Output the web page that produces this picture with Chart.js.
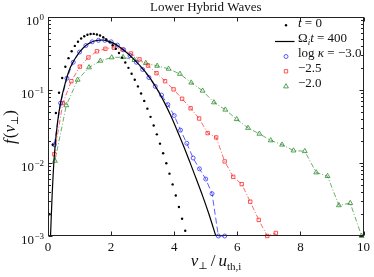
<!DOCTYPE html>
<html><head><meta charset="utf-8">
<script src="https://cdn.jsdelivr.net/npm/chart.js@4.4.1/dist/chart.umd.min.js"></script>
<style>html,body{margin:0;padding:0;background:#fff;}#wrap{width:374px;height:277px;position:relative;}</style>
</head><body><div id="wrap"><canvas id="c"></canvas></div>
<script>
// ---- data ----
const titleText = 'Lower Hybrid Waves';
const xTickValues = [0, 2, 4, 6, 8, 10];
const yTickValues = [1, 0.1, 0.01, 0.001];
const yTickExponents = ['0', '\u22121', '\u22122', '\u22123'];
const seriesNames = ['t = 0', '\u03A9i t = 400', 'log \u03BA = \u22123.0', '\u22122.5', '\u22122.0'];

// t = 0 (black dots)
const v_t0 = [0.05,0.15,0.25,0.35,0.45,0.55,0.65,0.75,0.85,0.95,1.05,1.15,1.25,1.35,1.45,1.55,1.65,1.75,1.85,1.95,2.05,2.15,2.25,2.35,2.45,2.55,2.65,2.75,2.85,2.95,3.05,3.15,3.25,3.35,3.45,3.55,3.65,3.75,3.85,3.95,4.05,4.15,4.25,4.35];
const f_t0 = [0.00199,0.0178,0.0483,0.0919,0.146,0.208,0.273,0.339,0.402,0.459,0.507,0.545,0.571,0.584,0.587,0.577,0.557,0.529,0.493,0.453,0.410,0.366,0.321,0.278,0.238,0.201,0.167,0.138,0.112,0.0894,0.0709,0.0555,0.0429,0.0327,0.0247,0.0184,0.0136,0.00992,0.00715,0.00509,0.00359,0.00250,0.00172,0.00118];

// Omega_i t = 400 (black solid)
const v_t400 = [0.08,0.13,0.2,0.3,0.4,0.55,0.7,0.9,1.1,1.3,1.5,1.7,1.9,2.1,2.3,2.5,2.7,2.9,3.1,3.3,3.5,3.7,3.9,4.1,4.3,4.5,4.7,4.9,5.1,5.32];
const f_t400 = [0.00100,0.00355,0.0126,0.0355,0.0676,0.126,0.200,0.288,0.372,0.437,0.473,0.484,0.468,0.432,0.380,0.324,0.269,0.219,0.174,0.132,0.0955,0.0661,0.0437,0.0275,0.0170,0.0102,0.00603,0.00355,0.00200,0.00100];

// log kappa = -3.0 (blue circles)
const v_k30 = [0.2,0.4,0.6,0.8,1.0,1.2,1.4,1.6,1.8,2.0,2.2,2.4,2.6,2.8,3.0,3.2,3.4,3.6,3.8,4.0,4.2,4.4,4.6,4.8,5.0,5.2,5.4,5.6];
const f_k30 = [0.0178,0.0661,0.145,0.240,0.331,0.407,0.457,0.479,0.479,0.457,0.412,0.355,0.295,0.240,0.191,0.148,0.112,0.0851,0.0631,0.0447,0.0282,0.0186,0.0117,0.00832,0.00603,0.00380,0.00100,0.00100];

// log kappa = -2.5 (red squares)
const v_k25 = [0.2,0.47,0.74,1.01,1.28,1.55,1.82,2.09,2.36,2.63,2.9,3.17,3.44,3.71,3.98,4.25,4.52,4.79,5.06,5.33,5.6,5.87,6.14,6.41,6.68,6.95,7.22];
const f_k25 = [0.0132,0.0661,0.132,0.209,0.279,0.339,0.367,0.380,0.359,0.316,0.263,0.216,0.170,0.132,0.102,0.0759,0.0562,0.0407,0.0257,0.0224,0.0105,0.00646,0.00513,0.00295,0.00166,0.00100,0.00110];

// log kappa = -2.0 (green triangles)
const v_k20 = [0.22,0.58,0.94,1.30,1.66,2.02,2.38,2.74,3.10,3.46,3.82,4.18,4.54,4.90,5.26,5.62,5.98,6.34,6.70,7.06,7.42,7.78,8.14,8.50,8.86,9.22,9.58,9.94];
const f_k20 = [0.0107,0.0617,0.138,0.204,0.251,0.279,0.282,0.257,0.234,0.214,0.195,0.166,0.126,0.0977,0.0676,0.0537,0.0398,0.0302,0.0251,0.0204,0.0178,0.0148,0.0145,0.00741,0.00661,0.00263,0.00282,0.00100];

// ---- styling ----
const FONT = '"Liberation Serif","DejaVu Serif","Times New Roman",serif';
const BLUE = '#3535ff', RED = '#ff2a2a', GREEN = '#2e8b2e';
const pts = (xs, ys) => xs.map((x, i) => ({x: x, y: ys[i]}));

function fontStr(s, base) { return (s.it ? 'italic ' : '') + (s.size || base) + 'px ' + FONT; }
function richWidth(ctx, segs, base) { let w = 0; for (const s of segs) { ctx.font = fontStr(s, base); w += ctx.measureText(s.t).width + (s.gap || 0); } return w; }
function drawRich(ctx, x, y, segs, base, align) {
  const w = richWidth(ctx, segs, base);
  let cx = align === 'right' ? x - w : (align === 'center' ? x - w / 2 : x);
  ctx.textAlign = 'left'; ctx.textBaseline = 'alphabetic';
  for (const s of segs) { ctx.font = fontStr(s, base); ctx.fillText(s.t, cx, y + (s.dy || 0)); cx += ctx.measureText(s.t).width + (s.gap || 0); }
}

const legendRich = [
  [{t:'t', it:1}, {t:' = 0'}],
  [{t:'\u03A9'}, {t:'i', it:1, size:9, dy:3}, {t:'t', it:1}, {t:' = 400'}],
  [{t:'log '}, {t:'\u03BA', it:1}, {t:' = \u22123.0'}],
  [{t:'\u22122.5'}],
  [{t:'\u22122.0'}]
];

const decor = {
  id: 'decor',
  afterDraw(chart) {
    const ctx = chart.ctx, a = chart.chartArea, xs = chart.scales.x, ys = chart.scales.y;
    ctx.save();
    // frame
    ctx.strokeStyle = '#222'; ctx.lineWidth = 1;
    const L = Math.round(a.left) + 0.5, R = Math.round(a.right) - 0.5, T = Math.round(a.top) + 0.5, B = Math.round(a.bottom) - 0.5;
    ctx.strokeRect(L, T, R - L, B - T);
    // ticks
    ctx.beginPath();
    for (const v of xTickValues) {
      const p = Math.round(xs.getPixelForValue(v)) + 0.5;
      ctx.moveTo(p, B); ctx.lineTo(p, B - 4);
      ctx.moveTo(p, T); ctx.lineTo(p, T + 4);
    }
    for (let i = 0; i < yTickValues.length; i++) {
      const d = yTickValues[i];
      const p = Math.round(ys.getPixelForValue(d)) + 0.5;
      ctx.moveTo(L, p); ctx.lineTo(L + 4, p);
      ctx.moveTo(R, p); ctx.lineTo(R - 4, p);
      if (d < 1) for (let m = 2; m <= 9; m++) {
        const q = Math.round(ys.getPixelForValue(d * m)) + 0.5;
        ctx.moveTo(L, q); ctx.lineTo(L + 2.5, q);
        ctx.moveTo(R, q); ctx.lineTo(R - 2.5, q);
      }
    }
    ctx.stroke();
    ctx.fillStyle = '#111';
    // y tick labels 10^n
    for (let i = 0; i < yTickValues.length; i++) {
      const p = ys.getPixelForValue(yTickValues[i]);
      ctx.font = '9px ' + FONT;
      const ew = ctx.measureText(yTickExponents[i]).width;
      ctx.textAlign = 'right'; ctx.textBaseline = 'alphabetic';
      ctx.fillText(yTickExponents[i], 44, p + 3);
      ctx.font = '13px ' + FONT;
      ctx.fillText('10', 44 - ew - 0.5, p + 8);
    }
    // title
    ctx.textAlign = 'center'; ctx.textBaseline = 'alphabetic';
    ctx.font = '13px ' + FONT;
    ctx.fillText(titleText, (a.left + a.right) / 2, 10.5);
    // x axis label
    drawRich(ctx, 216, 266, [{t:'v', it:1}, {t:'\u22A5', size:10, dy:3, gap:3}, {t:'/', gap:3}, {t:'u', it:1}, {t:'th,i', size:11, dy:4}], 17, 'center');
    // y axis label
    ctx.save(); ctx.translate(15, 127); ctx.rotate(-Math.PI / 2);
    drawRich(ctx, 0, 0, [{t:'f', it:1, gap:1}, {t:'('}, {t:'v', it:1}, {t:'\u22A5', size:10, dy:3}, {t:')'}], 17, 'center');
    ctx.restore();
    // legend
    const ds = chart.data.datasets;
    const rowsY = [27, 42, 57, 72, 87];
    const mkY = [25.3, 41.5, 56.5, 71.3, 86.5];
    for (let i = 0; i < ds.length; i++) {
      ctx.fillStyle = '#111';
      drawRich(ctx, 298, rowsY[i], legendRich[i], 13, 'left');
      const d = ds[i];
      if (i === 1) {
        ctx.strokeStyle = '#000'; ctx.lineWidth = 1.2; ctx.setLineDash([]);
        ctx.beginPath(); ctx.moveTo(275, mkY[i]); ctx.lineTo(294.5, mkY[i]); ctx.stroke();
      } else {
        ctx.setLineDash([]);
        ctx.fillStyle = d.pointBackgroundColor; ctx.strokeStyle = d.pointBorderColor || d.pointBackgroundColor;
        ctx.lineWidth = d.pointBorderWidth || 0;
        Chart.helpers.drawPoint(ctx, {pointStyle: d.pointStyle || 'circle', radius: d.pointRadius, rotation: 0, borderWidth: d.pointBorderWidth || 0}, 286, mkY[i]);
      }
    }
    ctx.restore();
  }
};

new Chart(document.getElementById('c'), {
  type: 'scatter',
  data: { datasets: [
    { label: seriesNames[0], data: pts(v_t0, f_t0), showLine: false, pointStyle: 'circle', pointRadius: 1.2, pointBackgroundColor: '#000', pointBorderColor: '#000', pointBorderWidth: 0, clip: false },
    { label: seriesNames[1], data: pts(v_t400, f_t400), showLine: true, borderColor: '#000', borderWidth: 1.2, pointRadius: 0, cubicInterpolationMode: 'monotone', clip: false },
    { label: seriesNames[2], data: pts(v_k30, f_k30), showLine: true, borderColor: BLUE, borderWidth: 0.8, borderDash: [6, 3], pointStyle: 'circle', pointRadius: 2, pointBorderColor: BLUE, pointBackgroundColor: 'rgba(0,0,0,0)', pointBorderWidth: 0.8, clip: false },
    { label: seriesNames[3], data: pts(v_k25, f_k25), showLine: true, borderColor: RED, borderWidth: 0.7, borderDash: [5, 2, 1, 2], pointStyle: 'rect', pointRadius: 2.4, pointBorderColor: RED, pointBackgroundColor: 'rgba(0,0,0,0)', pointBorderWidth: 0.8, clip: false },
    { label: seriesNames[4], data: pts(v_k20, f_k20), showLine: true, borderColor: GREEN, borderWidth: 0.7, borderDash: [5, 2, 1, 2], pointStyle: 'triangle', pointRadius: 2.8, pointBorderColor: GREEN, pointBackgroundColor: 'rgba(0,0,0,0)', pointBorderWidth: 0.8, clip: false }
  ]},
  options: {
    responsive: true, maintainAspectRatio: false, animation: false, events: [],
    layout: { padding: { left: 0, right: 8, top: 17, bottom: 0 } },
    plugins: { legend: { display: false }, title: { display: false }, tooltip: { enabled: false } },
    scales: {
      x: { type: 'linear', min: 0, max: 10,
           afterBuildTicks: s => { s.ticks = xTickValues.map(v => ({ value: v })); },
           afterFit: s => { s.height = 41; },
           grid: { display: false, drawTicks: false }, border: { display: false },
           ticks: { font: { family: FONT, size: 13 }, color: '#111', padding: 4, maxRotation: 0, autoSkip: false, callback: v => String(v) } },
      y: { type: 'logarithmic', min: 0.001, max: 1,
           afterFit: s => { s.width = 48; },
           grid: { display: false, drawTicks: false }, border: { display: false },
           ticks: { display: false } }
    }
  },
  plugins: [decor]
});
</script></body></html>
